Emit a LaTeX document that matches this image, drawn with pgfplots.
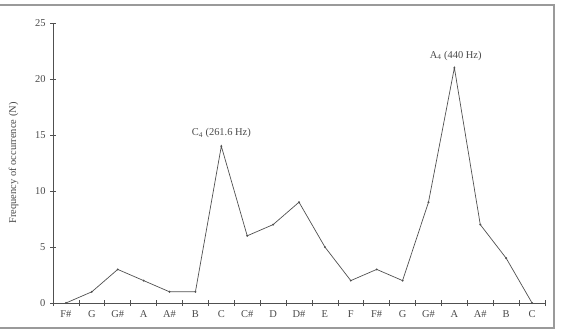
\documentclass[border=0pt]{standalone}
\usepackage{pgfplots}
\pgfplotsset{compat=1.18}
\usepackage{fontspec}
\setmainfont{Liberation Serif}
\definecolor{txt}{HTML}{4A4A4A}
\definecolor{ln}{HTML}{505050}
\definecolor{frame}{HTML}{9A9A9A}
\begin{document}
\begin{tikzpicture}[x=1bp,y=1bp]
\useasboundingbox (0,0) rectangle (561,332);
\draw[frame, line width=1.2bp] (-10,4) rectangle (554,327);
\begin{axis}[
  at={(53bp,29bp)}, anchor=south west,
  scale only axis, width=492bp, height=280bp,
  xmin=-0.5, xmax=18.5, ymin=0, ymax=25,
  axis lines=left, axis line style={-, ln, line width=0.7bp},
  xtick={0,...,18},
  xticklabels={F\#,G,G\#,A,A\#,B,C,C\#,D,D\#,E,F,F\#,G,G\#,A,A\#,B,C},
  major x tick style={draw=none},
  minor xtick={-0.5,0.5,...,18.5},
  minor tick length=6bp,
  minor x tick style={ln, line width=0.7bp},
  ytick={0,5,...,25},
  major tick length=6bp,
  major y tick style={ln, line width=0.7bp},
  tick align=center,
  font=\fontsize{10.5}{12}\selectfont,
  tick label style={txt},
  /pgf/number format/assume math mode=true,
  yticklabel style={xshift=-1bp},
  xticklabel style={yshift=-1bp},
  ylabel={Frequency of occurrence (N)},
  every axis y label/.style={at={(axis description cs:-0.08,0.5)}, rotate=90, anchor=center, txt},
  clip=false,
]
\addplot[ln, line width=0.7bp, mark=*, mark size=0.6bp, mark options={ln}] coordinates {
(0,0) (1,1) (2,3) (3,2) (4,1) (5,1) (6,14) (7,6) (8,7) (9,9) (10,5) (11,2) (12,3) (13,2) (14,9) (15,21) (16,7) (17,4) (18,0)
};
\node[txt, anchor=center, font=\fontsize{10.5}{12}\selectfont] at (axis cs:6,15.15) {C\textsubscript{4} (261.6 Hz)};
\node[txt, anchor=center, font=\fontsize{10.5}{12}\selectfont] at (axis cs:15.05,22.07) {A\textsubscript{4} (440 Hz)};
\end{axis}
\end{tikzpicture}
\end{document}
